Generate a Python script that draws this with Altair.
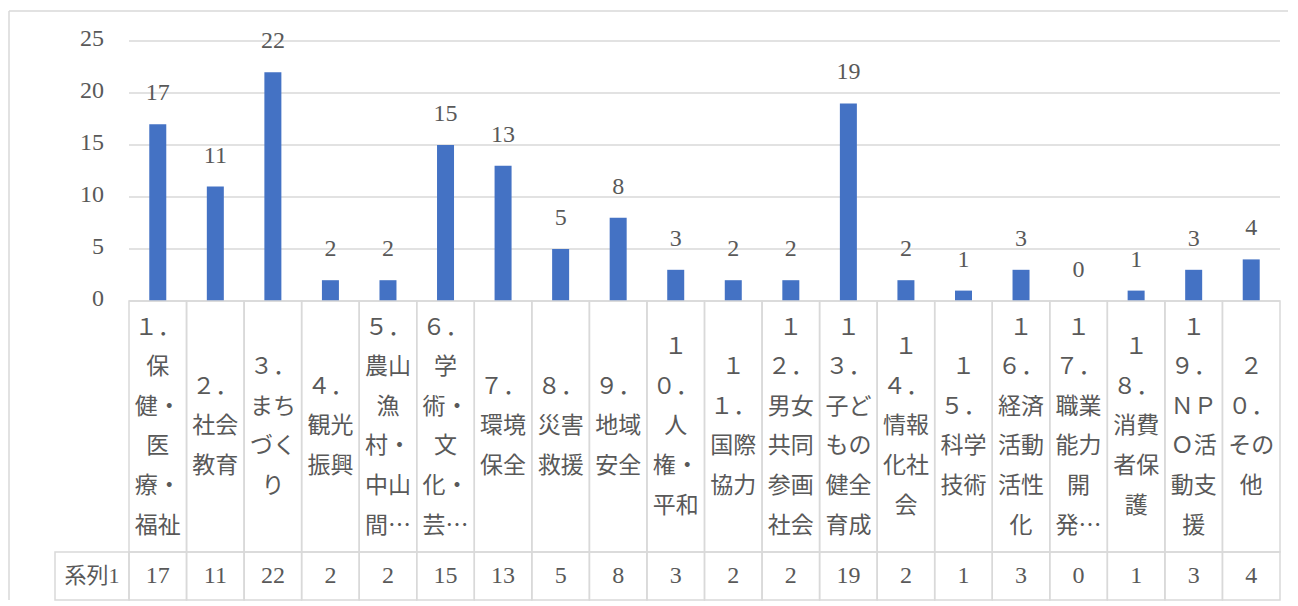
import altair as alt
import pandas as pd

# ---------------- data ----------------
CATEGORIES = [
    "１．\n保\n健・\n医\n療・\n福祉",
    "２．\n社会\n教育",
    "３．\nまち\nづく\nり",
    "４．\n観光\n振興",
    "５．\n農山\n漁\n村・\n中山\n間…",
    "６．\n学\n術・\n文\n化・\n芸…",
    "７．\n環境\n保全",
    "８．\n災害\n救援",
    "９．\n地域\n安全",
    "１\n０．\n人\n権・\n平和",
    "１\n１．\n国際\n協力",
    "１\n２．\n男女\n共同\n参画\n社会",
    "１\n３．\n子ど\nもの\n健全\n育成",
    "１\n４．\n情報\n化社\n会",
    "１\n５．\n科学\n技術",
    "１\n６．\n経済\n活動\n活性\n化",
    "１\n７．\n職業\n能力\n開\n発…",
    "１\n８．\n消費\n者保\n護",
    "１\n９．\nＮＰ\nＯ活\n動支\n援",
    "２\n０．\nその\n他",
]
VALUES = [17, 11, 22, 2, 2, 15, 13, 5, 8, 3, 2, 2, 19, 2, 1, 3, 0, 1, 3, 4]
SERIES_NAME = "系列1"
Y_TICKS = [0, 5, 10, 15, 20, 25]

# ---------------- layout (in scale units) ----------------
N = len(VALUES)
X_MIN, X_MAX = -0.5, N - 0.5
Y_MIN, Y_MAX = 0, 25
PLOT_W, PLOT_H = 1151, 260
PX_PER_X = PLOT_W / (X_MAX - X_MIN)
PX_PER_Y = PLOT_H / (Y_MAX - Y_MIN)
LINE_HEIGHT_PX = 39.6
LINE_HEIGHT = LINE_HEIGHT_PX / PX_PER_Y
LABEL_ROW_BOTTOM = -251 / PX_PER_Y
VALUE_ROW_BOTTOM = -(251 + 48) / PX_PER_Y
SERIES_CELL_LEFT = X_MIN - 74 / PX_PER_X
YLABEL_X = X_MIN - 25 / PX_PER_X
FRAME_LEFT = X_MIN - 120 / PX_PER_X
FRAME_RIGHT = X_MAX + 8 / PX_PER_X
FRAME_TOP = Y_MAX + 30 / PX_PER_Y
FRAME_BOTTOM = VALUE_ROW_BOTTOM

TEXT_COLOR = "#595959"
GRID_COLOR = "#d9d9d9"
BAR_COLOR = "#4472c4"
NUM_FONT = "Liberation Serif, Noto Sans CJK JP"
CJK_FONT = "Noto Sans CJK JP"

XS = alt.Scale(domain=[X_MIN, X_MAX], nice=False, zero=False, padding=0)
YS = alt.Scale(domain=[Y_MIN, Y_MAX], nice=False, zero=False, padding=0)

df = pd.DataFrame({
    "idx": list(range(N)),
    "label": CATEGORIES,
    "value": VALUES,
})
df["x0"] = df["idx"] - 0.5
df["x1"] = df["idx"] + 0.5
df["base"] = 0
df["top"] = 0
df["mid"] = LABEL_ROW_BOTTOM
df["bot"] = VALUE_ROW_BOTTOM
df["nlines"] = df["label"].str.count("\n") + 1
# first line position so that the block is vertically centred in its cell
df["label_y"] = LABEL_ROW_BOTTOM / 2 + (df["nlines"] - 1) / 2 * LINE_HEIGHT
df["value_y"] = (LABEL_ROW_BOTTOM + VALUE_ROW_BOTTOM) / 2

ticks = pd.DataFrame({"t": Y_TICKS, "x0": X_MIN, "x1": X_MAX, "xl": YLABEL_X})

series = pd.DataFrame({
    "name": [SERIES_NAME],
    "x0": [SERIES_CELL_LEFT], "x1": [X_MIN],
    "xc": [(SERIES_CELL_LEFT + X_MIN) / 2],
    "y0": [LABEL_ROW_BOTTOM], "y1": [VALUE_ROW_BOTTOM],
    "yc": [(LABEL_ROW_BOTTOM + VALUE_ROW_BOTTOM) / 2],
})

frame = pd.DataFrame({
    "x0": [FRAME_LEFT, FRAME_LEFT], "x1": [FRAME_RIGHT, FRAME_LEFT],
    "y0": [FRAME_TOP, FRAME_TOP], "y1": [FRAME_TOP, FRAME_BOTTOM],
})

frame_layer = alt.Chart(frame).mark_rule(color=GRID_COLOR, strokeWidth=1.5).encode(
    x=alt.X("x0:Q", scale=XS, axis=None), x2="x1",
    y=alt.Y("y0:Q", scale=YS, axis=None), y2="y1",
)

grid = alt.Chart(ticks).mark_rule(color=GRID_COLOR, strokeWidth=1.5).encode(
    x=alt.X("x0:Q", scale=XS, axis=None), x2="x1",
    y=alt.Y("t:Q", scale=YS, axis=None),
)

ylabels = alt.Chart(ticks).mark_text(
    align="right", baseline="middle", dy=-2, font=NUM_FONT, fontSize=24, color=TEXT_COLOR
).encode(
    x=alt.X("xl:Q", scale=XS, axis=None),
    y=alt.Y("t:Q", scale=YS, axis=None),
    text="t:Q",
)

bars = alt.Chart(df).mark_bar(size=17, color=BAR_COLOR).encode(
    x=alt.X("idx:Q", scale=XS, axis=None),
    y=alt.Y("value:Q", scale=YS, axis=None), y2="base",
)

bar_labels = alt.Chart(df).mark_text(
    baseline="alphabetic", dy=-24, font=NUM_FONT, fontSize=24, color=TEXT_COLOR
).encode(
    x=alt.X("idx:Q", scale=XS, axis=None),
    y=alt.Y("value:Q", scale=YS, axis=None),
    text="value:Q",
)

label_cells = alt.Chart(df).mark_rect(
    fillOpacity=0, stroke=GRID_COLOR, strokeWidth=1.5
).encode(
    x=alt.X("x0:Q", scale=XS, axis=None), x2="x1",
    y=alt.Y("top:Q", scale=YS, axis=None), y2="mid",
)

value_cells = alt.Chart(df).mark_rect(
    fillOpacity=0, stroke=GRID_COLOR, strokeWidth=1.5
).encode(
    x=alt.X("x0:Q", scale=XS, axis=None), x2="x1",
    y=alt.Y("mid:Q", scale=YS, axis=None), y2="bot",
)

series_cell = alt.Chart(series).mark_rect(
    fillOpacity=0, stroke=GRID_COLOR, strokeWidth=1.5
).encode(
    x=alt.X("x0:Q", scale=XS, axis=None), x2="x1",
    y=alt.Y("y0:Q", scale=YS, axis=None), y2="y1",
)

cat_text = alt.Chart(df).mark_text(
    align="center", baseline="middle", lineBreak="\n", lineHeight=LINE_HEIGHT_PX,
    font=CJK_FONT, fontSize=23, color=TEXT_COLOR
).encode(
    x=alt.X("idx:Q", scale=XS, axis=None),
    y=alt.Y("label_y:Q", scale=YS, axis=None),
    text="label:N",
)

val_text = alt.Chart(df).mark_text(
    align="center", baseline="middle", font=NUM_FONT, fontSize=24, color=TEXT_COLOR
).encode(
    x=alt.X("idx:Q", scale=XS, axis=None),
    y=alt.Y("value_y:Q", scale=YS, axis=None),
    text="value:Q",
)

series_text = alt.Chart(series).mark_text(
    align="center", baseline="middle", font=NUM_FONT, fontSize=22, color=TEXT_COLOR
).encode(
    x=alt.X("xc:Q", scale=XS, axis=None),
    y=alt.Y("yc:Q", scale=YS, axis=None),
    text="name:N",
)

chart = alt.layer(
    frame_layer, grid, ylabels, bars, bar_labels,
    label_cells, value_cells, series_cell,
    cat_text, val_text, series_text,
).properties(
    width=PLOT_W, height=PLOT_H,
    autosize=alt.AutoSizeParams(type="pad"),
    padding={"left": 0, "top": 2, "right": 0, "bottom": 0},
    background="white",
).configure_view(strokeWidth=0)

chart.save("out.html", embed_options={"renderer": "svg", "actions": False})
